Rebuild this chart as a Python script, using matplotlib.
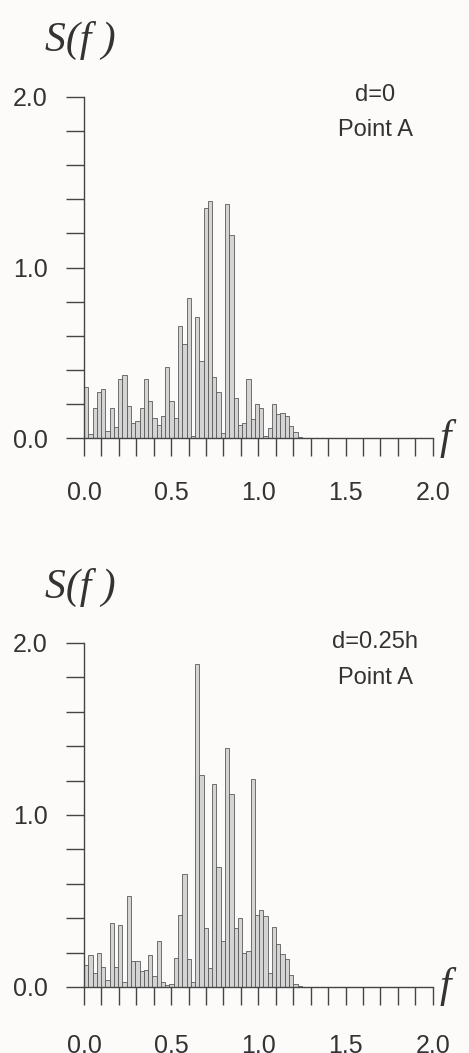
import numpy as np
import matplotlib.pyplot as plt
from matplotlib.ticker import MultipleLocator, FixedLocator

# spectral estimates (frequency bins of width df starting at f=0)
df = 0.0245
s_point_a_d0 = [0.30, 0.025, 0.18, 0.27, 0.29, 0.045, 0.18, 0.065, 0.35, 0.37,
                0.19, 0.09, 0.10, 0.18, 0.35, 0.22, 0.12, 0.08, 0.13, 0.42,
                0.22, 0.12, 0.655, 0.553, 0.82, 0.014, 0.71, 0.45, 1.35, 1.39,
                0.36, 0.27, 0.033, 1.37, 1.19, 0.235, 0.08, 0.09, 0.35, 0.11,
                0.20, 0.18, 0.014, 0.06, 0.20, 0.14, 0.15, 0.13, 0.07, 0.035,
                0.01]
s_point_a_d025 = [0.13, 0.186, 0.083, 0.20, 0.118, 0.04, 0.374, 0.118, 0.358, 0.03,
                  0.53, 0.15, 0.15, 0.09, 0.10, 0.186, 0.064, 0.27, 0.03, 0.01,
                  0.02, 0.167, 0.42, 0.655, 0.165, 0.03, 1.88, 1.235, 0.34, 0.11,
                  1.18, 0.70, 0.27, 1.39, 1.12, 0.34, 0.40, 0.20, 0.21, 1.21,
                  0.42, 0.45, 0.41, 0.083, 0.35, 0.25, 0.19, 0.16, 0.068, 0.016,
                  0.004]
labels_d = ['d=0', 'd=0.25h']
x_ticklabels = ['0.0', '0.5', '1.0', '1.5', '2.0']
y_ticklabels = ['0.0', '1.0', '2.0']

bg = '#fcfbf9'
ink = '#333333'
sans = 'Liberation Sans'
serif = 'Liberation Serif'

fig = plt.figure(figsize=(4.69, 10.53), dpi=100, facecolor=bg)

# values, label, axes bottom, axes height, S(f) y, d= y, Point A y, x label pad
panels = [
    (s_point_a_d0, labels_d[0], 0.5838, 0.3241, 0.962, 0.910, 0.877, 18),
    (s_point_a_d025, labels_d[1], 0.0627, 0.3267, 0.4425, 0.390, 0.356, 21),
]

for vals, dlabel, bottom, height, sy, dy, py, xpad in panels:
    ax = fig.add_axes([0.1791, bottom, 0.7435, height])
    ax.set_facecolor('none')
    f = np.arange(len(vals)) * df
    ax.bar(f, vals, width=df, align='edge', color='#d4d4d4',
           edgecolor='#5a5a5a', linewidth=0.6)

    ax.set_xlim(0, 2.0)
    ax.set_ylim(0, 2.0)
    for side in ['top', 'right']:
        ax.spines[side].set_visible(False)
    for side in ['left', 'bottom']:
        ax.spines[side].set_color('#444444')
        ax.spines[side].set_linewidth(1.0)

    ax.xaxis.set_major_locator(FixedLocator([0, 0.5, 1.0, 1.5, 2.0]))
    ax.xaxis.set_minor_locator(MultipleLocator(0.1))
    ax.set_xticklabels(x_ticklabels)
    ax.yaxis.set_major_locator(FixedLocator([0, 1.0, 2.0]))
    ax.yaxis.set_minor_locator(MultipleLocator(0.2))
    ax.set_yticklabels(y_ticklabels)

    ax.tick_params(axis='both', which='both', direction='out', length=13,
                   width=1.0, color='#444444')
    ax.tick_params(axis='x', which='major', pad=xpad, labelsize=18,
                   labelcolor=ink)
    ax.tick_params(axis='y', which='major', pad=13, labelsize=18,
                   labelcolor=ink)
    for lab in ax.get_xticklabels() + ax.get_yticklabels():
        lab.set_fontfamily(sans)

    # axis symbols
    ax.text(2.07, 0.0, 'f', fontfamily=serif, style='italic', fontsize=30,
            color=ink, ha='center', va='center')
    fig.text(0.1706, sy, 'S(f )', fontfamily=serif, style='italic',
             fontsize=30, color=ink, ha='center', va='center')

    fig.text(0.80, dy, dlabel, fontfamily=sans, fontsize=17, color=ink,
             ha='center', va='center')
    fig.text(0.80, py, 'Point A', fontfamily=sans, fontsize=17, color=ink,
             ha='center', va='center')

plt.savefig('out.png', dpi=100, facecolor=bg)
